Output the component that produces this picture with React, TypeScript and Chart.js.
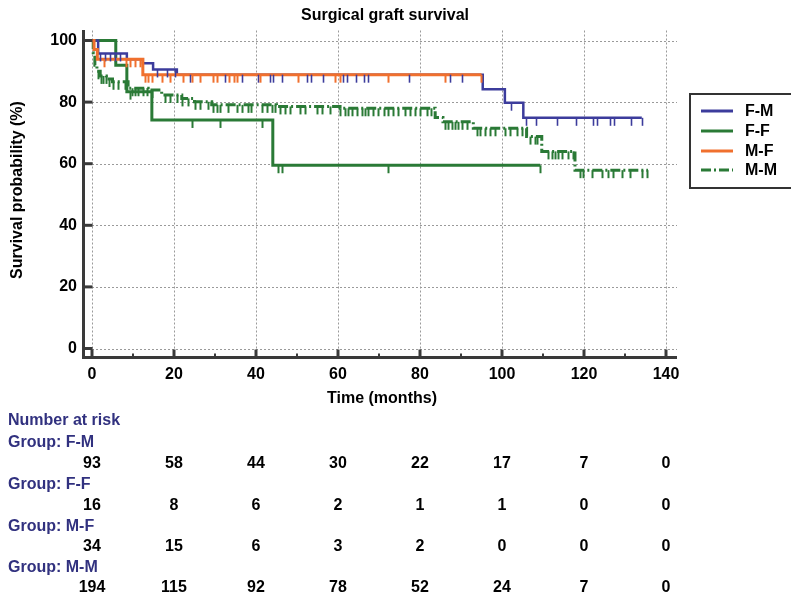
import React, { useEffect, useRef } from 'react';
import { Chart, registerables } from 'chart.js';

Chart.register(...registerables);

const FONT = "'Liberation Sans', Arial, Helvetica, sans-serif";

// ---------- data ----------
const seriesNames = ['F-M', 'F-F', 'M-F', 'M-M'];
const seriesColors = ['#3c3c9c', '#2a7a36', '#f0702e', '#2a7a36'];

// F-M (step change points: time in months, survival %)
const fmTimes = [0, 1.5, 8.5, 12.4, 14.9, 20.7, 95.3, 100.7, 105.2, 134.1];
const fmSurv = [100, 95.8, 93.9, 92.6, 90.6, 88.9, 84.2, 79.8, 74.9, 74.9];
const fmCensor = [2, 3.2, 4.4, 5.6, 6.8, 15.8, 18.2, 20.2, 23.9, 32.4, 36.5, 40.6, 43.4, 44.2, 46.3, 52.5, 53.4, 56.3, 61.3, 62.1, 64.4, 66.4, 67.2, 77.3, 87.2, 90.2, 102.1, 105.8, 108.2, 113.3, 118, 122.2, 123.1, 126.3, 127.3, 131.4, 134.1];

// F-F
const ffTimes = [0, 5.8, 8.5, 14.6, 44.1, 109.3];
const ffSurv = [100, 92.0, 83.4, 74.2, 59.5, 59.5];
const ffCensor = [9.3, 24.3, 31.2, 41.4, 45.4, 46.4, 72.3, 109.3];

// M-F
const mfTimes = [0, 0.5, 1.3, 12.4, 95];
const mfSurv = [100, 97.1, 93.9, 88.9, 88.9];
const mfCensor = [3, 8.2, 9.3, 10.5, 11.7, 12.9, 13.7, 14.6, 17, 19, 22.3, 24.3, 26.3, 29.6, 30.4, 33.4, 34.6, 35.3, 41, 50.3, 59.3, 60.5, 72.2, 86.1, 95];

// M-M
const mmTimes = [0, 0.3, 0.7, 1.2, 2, 3.5, 5, 8.8, 13.7, 17, 21.9, 25, 29.2, 45, 60.5, 83.7, 85.6, 93, 106, 109.7, 117.8, 135.6];
const mmSurv = [100, 96, 92, 90, 88.5, 87.5, 86.6, 84.5, 83.9, 82.3, 81.2, 80.1, 79.1, 78.6, 78.0, 75.0, 73.6, 71.5, 68.8, 64.0, 57.9, 57.9];
const mmCensor = [1.5, 2.2, 2.8, 3.3, 4.1, 5.2, 6.4, 8, 9.7, 10.5, 11.3, 12.5, 13.3, 14.6, 17.8, 19, 20.7, 21.9, 23.5, 25.1, 26.3, 28.4, 29.6, 30.4, 31.2, 33.2, 35.3, 36.5, 38.1, 38.9, 41.4, 42.6, 43.8, 44.6, 45.9, 47.1, 48.3, 50.7, 52, 54.8, 56, 58, 60.5, 61.7, 62.5, 63.3, 64.6, 65.8, 66.6, 67.4, 68.6, 69.8, 71.1, 72.3, 73.5, 74.7, 76.3, 77.6, 78.8, 80, 81.6, 82.8, 86.1, 86.9, 87.7, 88.5, 89.3, 90.2, 91.4, 93.8, 94.6, 95.9, 97.1, 98.3, 100.7, 102, 103.6, 104.8, 106.8, 108, 108.5, 111.3, 112.1, 112.9, 113.7, 114.6, 116.2, 117.4, 119, 119.8, 121.9, 124.3, 125.9, 127.1, 129.2, 131.2, 134.1, 135.3];

const xTicks = [0, 20, 40, 60, 80, 100, 120, 140];
const xMinorTicks = [10, 30, 50, 70, 90, 110, 130];
const yTicks = [0, 20, 40, 60, 80, 100];

const riskTimes = [0, 20, 40, 60, 80, 100, 120, 140];
const riskFM = [93, 58, 44, 30, 22, 17, 7, 0];
const riskFF = [16, 8, 6, 2, 1, 1, 0, 0];
const riskMF = [34, 15, 6, 3, 2, 0, 0, 0];
const riskMM = [194, 115, 92, 78, 52, 24, 7, 0];

const chartTitle = 'Surgical graft survival';
const xTitle = 'Time (months)';
const yTitle = 'Survival probability (%)';

// ---------- helpers ----------
const allTimes = [fmTimes, ffTimes, mfTimes, mmTimes];
const allSurv = [fmSurv, ffSurv, mfSurv, mmSurv];
const allCensor = [fmCensor, ffCensor, mfCensor, mmCensor];
const allRisk = [riskFM, riskFF, riskMF, riskMM];

function stepValue(times: number[], surv: number[], t: number) {
  let v = surv[0];
  for (let i = 0; i < times.length; i++) {
    if (times[i] <= t + 1e-9) v = surv[i];
    else break;
  }
  return v;
}

const MM_DASH = [10, 3, 2, 3];

const kmPlugin = {
  id: 'kmDecor',
  beforeDatasetsDraw(chart: any) {
    const { ctx, chartArea, scales } = chart;
    const x = scales.x, y = scales.y;
    ctx.save();
    ctx.strokeStyle = '#9a9a9a';
    ctx.lineWidth = 1;
    ctx.setLineDash([2, 2]);
    const x0 = x.getPixelForValue(0);
    const y0 = y.getPixelForValue(0);
    for (const v of yTicks) {
      const py = Math.round(y.getPixelForValue(v)) + 0.5;
      ctx.beginPath();
      ctx.moveTo(x0, py);
      ctx.lineTo(chartArea.right, py);
      ctx.stroke();
    }
    for (const v of xTicks) {
      const px = Math.round(x.getPixelForValue(v)) + 0.5;
      ctx.beginPath();
      ctx.moveTo(px, y0);
      ctx.lineTo(px, chartArea.top);
      ctx.stroke();
    }
    ctx.restore();
  },
  afterDatasetsDraw(chart: any) {
    const { ctx, scales } = chart;
    const x = scales.x, y = scales.y;
    ctx.save();
    ctx.setLineDash([]);
    allCensor.forEach((cens, si) => {
      ctx.strokeStyle = seriesColors[si];
      ctx.lineWidth = si === 0 ? 1.6 : 2;
      for (const t of cens) {
        const px = Math.round(x.getPixelForValue(t)) + 0.5;
        const py = y.getPixelForValue(stepValue(allTimes[si], allSurv[si], t));
        ctx.beginPath();
        ctx.moveTo(px, py);
        ctx.lineTo(px, py + 8);
        ctx.stroke();
      }
    });
    ctx.restore();
  },
  afterDraw(chart: any) {
    const { ctx, chartArea, scales } = chart;
    const x = scales.x, y = scales.y;
    ctx.save();
    ctx.setLineDash([]);
    // axes
    const axisColor = '#3a3a3a';
    ctx.strokeStyle = axisColor;
    ctx.lineWidth = 3;
    const axX = chartArea.left + 1.5;
    const axY = chartArea.bottom - 1.5;
    ctx.beginPath();
    ctx.moveTo(axX, chartArea.top);
    ctx.lineTo(axX, axY + 1.5);
    ctx.moveTo(chartArea.left, axY);
    ctx.lineTo(chartArea.right, axY);
    ctx.stroke();
    // major ticks x
    for (const v of xTicks) {
      const px = x.getPixelForValue(v);
      ctx.beginPath();
      ctx.moveTo(px, axY);
      ctx.lineTo(px, axY - 8);
      ctx.stroke();
    }
    ctx.lineWidth = 2;
    for (const v of xMinorTicks) {
      const px = x.getPixelForValue(v);
      ctx.beginPath();
      ctx.moveTo(px, axY);
      ctx.lineTo(px, axY - 4);
      ctx.stroke();
    }
    ctx.lineWidth = 3;
    for (const v of yTicks) {
      const py = y.getPixelForValue(v);
      ctx.beginPath();
      ctx.moveTo(axX, py);
      ctx.lineTo(axX + 9, py);
      ctx.stroke();
    }

    // titles
    ctx.fillStyle = '#000';
    ctx.font = `bold 16px ${FONT}`;
    ctx.textAlign = 'center';
    ctx.textBaseline = 'middle';
    ctx.fillText(chartTitle, 385, 16);
    ctx.fillText(xTitle, 382, 399);
    ctx.save();
    ctx.translate(18, 190);
    ctx.rotate(-Math.PI / 2);
    ctx.fillText(yTitle, 0, 0);
    ctx.restore();

    // legend
    const lx = 690, ly = 94;
    ctx.fillStyle = '#fff';
    ctx.fillRect(lx, ly, 120, 94);
    ctx.strokeStyle = '#333';
    ctx.lineWidth = 2;
    ctx.strokeRect(lx, ly, 120, 94);
    const rowY = [111, 131, 151, 170];
    seriesNames.forEach((name, i) => {
      ctx.strokeStyle = seriesColors[i];
      ctx.lineWidth = 3;
      ctx.setLineDash(i === 3 ? MM_DASH : []);
      ctx.beginPath();
      ctx.moveTo(701, rowY[i]);
      ctx.lineTo(733, rowY[i]);
      ctx.stroke();
      ctx.setLineDash([]);
      ctx.fillStyle = '#000';
      ctx.textAlign = 'left';
      ctx.fillText(name, 745, rowY[i] + 1);
    });

    // number at risk table
    const navy = '#31317f';
    ctx.textAlign = 'left';
    ctx.fillStyle = navy;
    ctx.fillText('Number at risk', 8, 421);
    const groupY = [443, 485, 527, 568];
    const numY = [464, 506, 547, 588];
    seriesNames.forEach((name, i) => {
      ctx.fillStyle = navy;
      ctx.textAlign = 'left';
      ctx.fillText('Group: ' + name, 8, groupY[i]);
      ctx.fillStyle = '#000';
      ctx.textAlign = 'center';
      riskTimes.forEach((t, j) => {
        ctx.fillText(String(allRisk[i][j]), x.getPixelForValue(t), numY[i]);
      });
    });
    ctx.restore();
  },
};

export default function App() {
  const ref = useRef<HTMLCanvasElement | null>(null);
  useEffect(() => {
    if (!ref.current) return;
    const datasets = seriesNames.map((name, i) => ({
      label: name,
      data: allTimes[i].map((t, k) => ({ x: t, y: allSurv[i][k] })),
      borderColor: seriesColors[i],
      backgroundColor: seriesColors[i],
      borderWidth: i === 0 ? 2.5 : 3,
      borderDash: i === 3 ? MM_DASH : [],
      stepped: 'before' as const,
      pointRadius: 0,
      fill: false,
      order: [1, 3, 0, 2][i],
    }));
    const chart = new Chart(ref.current, {
      type: 'line',
      data: { datasets },
      plugins: [kmPlugin],
      options: {
        animation: false,
        responsive: false,
        devicePixelRatio: 1,
        layout: { padding: { top: 30, left: 0, right: 791 - 677, bottom: 0 } },
        plugins: { legend: { display: false }, tooltip: { enabled: false }, title: { display: false } },
        scales: {
          x: {
            type: 'linear',
            min: (82 - 92) / 4.1,
            max: (677 - 92) / 4.1,
            grid: { display: false, drawTicks: false },
            border: { display: false },
            ticks: { color: '#000', font: { family: FONT, size: 16, weight: 'bold' }, padding: 6, maxRotation: 0 },
            afterBuildTicks: (s: any) => { s.ticks = xTicks.map((v) => ({ value: v })); },
            afterFit: (s: any) => { s.height = 600 - 359; },
          },
          y: {
            type: 'linear',
            min: (348.5 - 359) / 3.08,
            max: 100 + (40.5 - 30) / 3.08,
            grid: { display: false, drawTicks: false },
            border: { display: false },
            ticks: { color: '#000', font: { family: FONT, size: 16, weight: 'bold' }, padding: 5 },
            afterBuildTicks: (s: any) => { s.ticks = yTicks.map((v) => ({ value: v })); },
            afterFit: (s: any) => { s.width = 82; },
          },
        },
      },
    } as any);
    return () => chart.destroy();
  }, []);
  return (
    <div style={{ position: 'absolute', left: 0, top: 0, width: 791, height: 600, background: '#fff' }}>
      <canvas ref={ref} width={791} height={600} style={{ display: 'block' }} />
    </div>
  );
}
